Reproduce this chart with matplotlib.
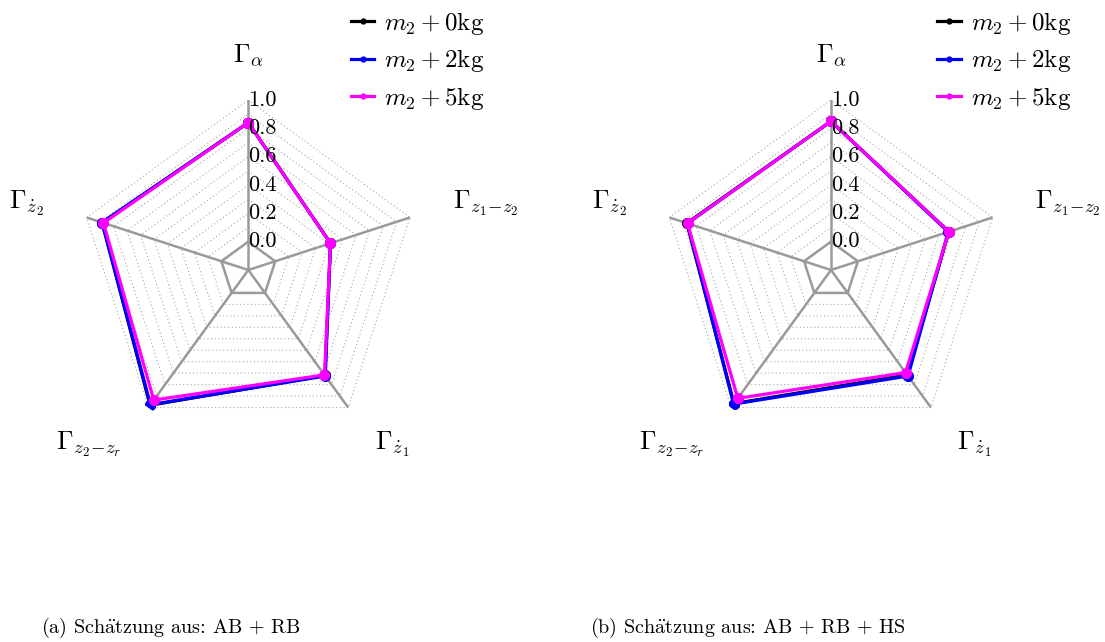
import matplotlib
matplotlib.use("Agg")
import matplotlib.pyplot as plt
import numpy as np

plt.rcParams['font.family'] = ['cmr10', 'DejaVu Serif']
plt.rcParams['mathtext.fontset'] = 'cm'
plt.rcParams['axes.formatter.use_mathtext'] = True

axis_labels = [r'$\Gamma_{\alpha}$', r'$\Gamma_{z_1\!-\!z_2}$', r'$\Gamma_{\dot{z}_1}$',
               r'$\Gamma_{z_2\!-\!z_r}$', r'$\Gamma_{\dot{z}_2}$']
series_labels = [r'$m_2+0\mathrm{kg}$', r'$m_2+2\mathrm{kg}$', r'$m_2+5\mathrm{kg}$']
colors = ['black', 'blue', 'magenta']

# estimate from AB + RB
gamma_ab_rb = [
    [0.84, 0.41, 0.720, 0.980, 0.885],
    [0.84, 0.41, 0.725, 0.975, 0.885],
    [0.84, 0.41, 0.715, 0.935, 0.875],
]
# estimate from AB + RB + HS
gamma_ab_rb_hs = [
    [0.85, 0.675, 0.715, 0.965, 0.870],
    [0.85, 0.670, 0.725, 0.970, 0.865],
    [0.85, 0.675, 0.695, 0.920, 0.865],
]
captions = [r'(a) Sch$\mathrm{\ddot{a}}$tzung aus: AB $+$ RB',
            r'(b) Sch$\mathrm{\ddot{a}}$tzung aus: AB $+$ RB $+$ HS']
r_ticks = [0.0, 0.2, 0.4, 0.6, 0.8, 1.0]
r_grid = [0.1, 0.2, 0.3, 0.4, 0.5, 0.6, 0.7, 0.8, 0.9, 1.0]

W, H = 1105, 642
fig = plt.figure(figsize=(W / 100, H / 100), dpi=100)

angles = np.linspace(0, 2 * np.pi, len(axis_labels), endpoint=False)
closed = np.append(angles, angles[0])
gray = '#9a9a9a'


def radar(cx, cy, data, legend_x):
    rad = 170
    ax = fig.add_axes([(cx - rad) / W, (H - cy - rad) / H, 2 * rad / W, 2 * rad / H],
                      projection='polar')
    ax.set_theta_zero_location('N')
    ax.set_theta_direction(-1)
    ax.set_ylim(-0.2, 1.0)
    ax.grid(False)
    ax.set_xticks([])
    ax.set_yticks([])
    for s in ax.spines.values():
        s.set_visible(False)
    ax.patch.set_visible(False)

    # dotted rings
    for g in r_grid:
        ax.plot(closed, [g] * len(closed), color='#a8a8a8', lw=0.8,
                ls=(0, (1, 2.3)), zorder=1)
    # spokes and inner ring
    for a in angles:
        ax.plot([a, a], [-0.2, 1.0], color=gray, lw=1.8, zorder=2)
    ax.plot(closed, [0.0] * len(closed), color=gray, lw=1.8, zorder=2)

    for vals, c, lab in zip(data, colors, series_labels):
        v = np.append(vals, vals[0])
        ax.plot(closed, v, color=c, lw=2.3, marker='o', ms=7, label=lab, zorder=3)

    for t in r_ticks:
        ax.text(0, t, f'{t:.1f}', ha='left', va='center', fontsize=16, zorder=4)

    has = ['center', 'left', 'left', 'right', 'right']
    for a, lab, ha in zip(angles, axis_labels, has):
        ax.text(a, 1.317, lab, ha=ha, va='center', fontsize=19)

    ax.legend(loc='upper left', bbox_to_anchor=(legend_x / W, 1 - 10 / H),
              bbox_transform=fig.transFigure, frameon=False, fontsize=18,
              handlelength=0.95, handletextpad=0.4, labelspacing=0.42,
              borderpad=0, borderaxespad=0, markerscale=0.5)
    return ax


radar(248.3, 270, gamma_ab_rb, 350.7)
radar(831, 270, gamma_ab_rb_hs, 937)

fig.text(171 / W, 1 - 628 / H, captions[0], ha='center', va='center', fontsize=14.5)
fig.text(748 / W, 1 - 628 / H, captions[1], ha='center', va='center', fontsize=14.5)

fig.savefig('out.png', dpi=100)
